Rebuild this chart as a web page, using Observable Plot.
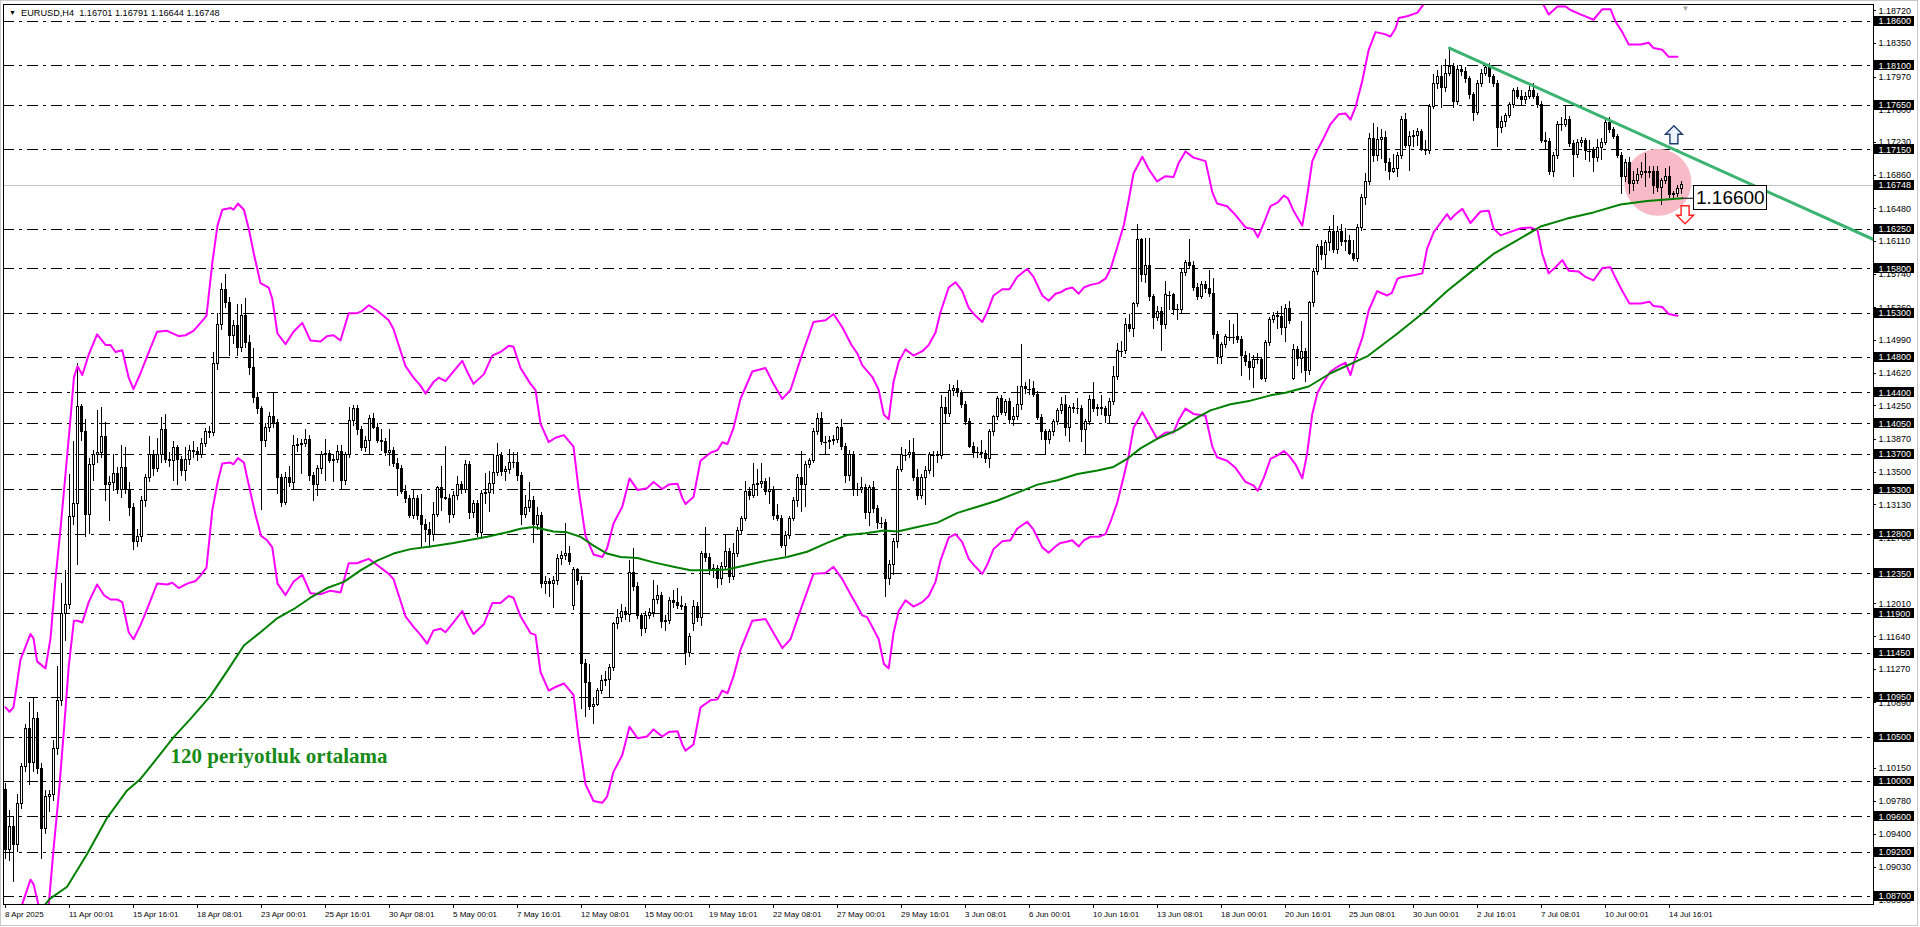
<!DOCTYPE html>
<html><head><meta charset="utf-8">
<script src="https://cdn.jsdelivr.net/npm/d3@7"></script>
<script src="https://cdn.jsdelivr.net/npm/@observablehq/plot@0.6"></script>
<style>
html,body{margin:0;padding:0;background:#fff;overflow:hidden;}
#wrap{position:relative;width:1920px;height:927px;overflow:hidden;}
#border{position:absolute;left:0;top:0;width:1916px;height:924px;border:1px solid #c8c8c8;pointer-events:none;}
</style></head><body><div id="wrap"><div id="chart"></div><div id="border"></div></div>
<script>
// ---- H4 candles (bar index 0 = 8 Apr 2025 08:00) ----
const open = [
1.0990,1.0923,1.0949,1.0928,1.0975,1.1016,1.1060,1.1021,1.1071,1.1014,
1.0946,1.0982,1.0985,1.1037,1.1091,1.1190,1.1200,1.1299,1.1314,1.1424,
1.1395,1.1302,1.1358,1.1369,1.1372,1.1390,1.1335,1.1338,1.1348,1.1330,
1.1355,1.1330,1.1310,1.1271,1.1277,1.1317,1.1343,1.1369,1.1354,1.1370,
1.1398,1.1364,1.1363,1.1377,1.1364,1.1351,1.1364,1.1374,1.1373,1.1370,
1.1382,1.1395,1.1394,1.1473,1.1517,1.1556,1.1541,1.1504,1.1515,1.1491,
1.1527,1.1496,1.1468,1.1434,1.1421,1.1385,1.1400,1.1413,1.1406,1.1343,
1.1315,1.1344,1.1338,1.1380,1.1381,1.1382,1.1387,1.1346,1.1335,1.1354,
1.1369,1.1371,1.1363,1.1364,1.1373,1.1340,1.1369,1.1408,1.1421,1.1398,
1.1377,1.1385,1.1410,1.1400,1.1385,1.1384,1.1372,1.1374,1.1359,1.1354,
1.1328,1.1320,1.1301,1.1320,1.1300,1.1290,1.1285,1.1279,1.1302,1.1332,
1.1321,1.1320,1.1302,1.1323,1.1335,1.1330,1.1358,1.1304,1.1314,1.1281,
1.1325,1.1326,1.1337,1.1349,1.1368,1.1350,1.1352,1.1360,1.1361,1.1346,
1.1302,1.1309,1.1318,1.1290,1.1300,1.1224,1.1226,1.1224,1.1227,1.1252,
1.1255,1.1257,1.1199,1.1239,1.1227,1.1133,1.1112,1.1084,1.1087,1.1102,
1.1114,1.1115,1.1129,1.1178,1.1185,1.1192,1.1189,1.1236,1.1220,1.1187,
1.1173,1.1187,1.1191,1.1206,1.1210,1.1180,1.1182,1.1204,1.1202,1.1199,
1.1198,1.1145,1.1178,1.1198,1.1185,1.1257,1.1253,1.1238,1.1240,1.1229,
1.1243,1.1260,1.1231,1.1257,1.1283,1.1297,1.1328,1.1323,1.1335,1.1337,
1.1339,1.1328,1.1330,1.1300,1.1297,1.1267,1.1278,1.1297,1.1318,1.1344,
1.1335,1.1358,1.1363,1.1396,1.1410,1.1384,1.1384,1.1385,1.1386,1.1400,
1.1379,1.1346,1.1370,1.1330,1.1330,1.1332,1.1304,1.1332,1.1308,1.1292,
1.1292,1.1229,1.1245,1.1271,1.1353,1.1369,1.1369,1.1372,1.1344,1.1323,
1.1344,1.1351,1.1369,1.1369,1.1368,1.1423,1.1416,1.1442,1.1444,1.1440,
1.1426,1.1407,1.1379,1.1372,1.1372,1.1371,1.1365,1.1395,1.1412,1.1433,
1.1417,1.1429,1.1409,1.1412,1.1426,1.1446,1.1444,1.1444,1.1437,1.1411,
1.1395,1.1386,1.1395,1.1407,1.1419,1.1426,1.1400,1.1423,1.1422,1.1421,
1.1398,1.1407,1.1432,1.1421,1.1423,1.1421,1.1414,1.1430,1.1458,1.1487,
1.1487,1.1517,1.1512,1.1540,1.1613,1.1573,1.1583,1.1548,1.1524,1.1531,
1.1517,1.1550,1.1550,1.1534,1.1534,1.1576,1.1587,1.1583,1.1559,1.1548,
1.1562,1.1557,1.1552,1.1505,1.1480,1.1494,1.1503,1.1503,1.1503,1.1500,
1.1482,1.1475,1.1468,1.1477,1.1477,1.1456,1.1496,1.1522,1.1527,1.1526,
1.1513,1.1535,1.1456,1.1488,1.1478,1.1486,1.1464,1.1541,1.1577,1.1605,
1.1596,1.1609,1.1622,1.1601,1.1622,1.1610,1.1612,1.1597,1.1591,1.1626,
1.1660,1.1678,1.1727,1.1708,1.1726,1.1728,1.1700,1.1690,1.1693,1.1708,
1.1749,1.1719,1.1729,1.1731,1.1735,1.1715,1.1713,1.1763,1.1789,1.1797,
1.1785,1.1801,1.1809,1.1769,1.1805,1.1803,1.1795,1.1777,1.1757,1.1789,
1.1801,1.1807,1.1797,1.1789,1.1739,1.1746,1.1753,1.1765,1.1781,1.1775,
1.1771,1.1775,1.1781,1.1775,1.1765,1.1725,1.1724,1.1690,1.1708,1.1743,
1.1743,1.1749,1.1721,1.1709,1.1723,1.1725,1.1713,1.1713,1.1705,1.1717,
1.1723,1.1745,1.1737,1.1729,1.1708,1.1684,1.1700,1.1676,1.1680,1.1686,
1.1690,1.1689,1.1690,1.1690,1.1672,1.1680,1.1684,1.1664,1.1665,1.16701];
const high = [
1.0998,1.0967,1.0960,1.0985,1.1020,1.1065,1.1089,1.1095,1.1078,1.1020,
1.0990,1.0990,1.1047,1.1130,1.1224,1.1239,1.1348,1.1385,1.1473,1.1427,
1.1410,1.1365,1.1375,1.1420,1.1423,1.1406,1.1345,1.1370,1.1355,1.1380,
1.1378,1.1338,1.1315,1.1285,1.1322,1.1348,1.1390,1.1375,1.1388,1.1412,
1.1415,1.1372,1.1385,1.1380,1.1368,1.1378,1.1380,1.1385,1.1378,1.1388,
1.1400,1.1402,1.1485,1.1530,1.1563,1.1574,1.1548,1.1522,1.1540,1.1540,
1.1547,1.1505,1.1490,1.1440,1.1424,1.1405,1.1418,1.1439,1.1410,1.1348,
1.1350,1.1356,1.1392,1.1388,1.1387,1.1398,1.1392,1.1350,1.1358,1.1373,
1.1387,1.1375,1.1370,1.1380,1.1380,1.1372,1.1423,1.1425,1.1426,1.1402,
1.1390,1.1414,1.1416,1.1405,1.1398,1.1388,1.1398,1.1378,1.1366,1.1358,
1.1335,1.1324,1.1330,1.1324,1.1325,1.1296,1.1293,1.1316,1.1334,1.1356,
1.1379,1.1325,1.1328,1.1345,1.1340,1.1363,1.1362,1.1318,1.1318,1.1329,
1.1349,1.1351,1.1369,1.1382,1.1372,1.1356,1.1376,1.1372,1.1372,1.1350,
1.1324,1.1338,1.1322,1.1310,1.1305,1.1232,1.1230,1.1232,1.1257,1.1260,
1.1292,1.1266,1.1242,1.1241,1.1232,1.1138,1.1133,1.1095,1.1105,1.1120,
1.1125,1.1133,1.1180,1.1195,1.1200,1.1197,1.1250,1.1264,1.1225,1.1190,
1.1192,1.1196,1.1227,1.1222,1.1214,1.1188,1.1208,1.1216,1.1218,1.1209,
1.1202,1.1168,1.1205,1.1203,1.1260,1.1288,1.1258,1.1246,1.1244,1.1248,
1.1280,1.1264,1.1269,1.1287,1.1300,1.1340,1.1333,1.1360,1.1353,1.1360,
1.1343,1.1344,1.1334,1.1314,1.1301,1.1283,1.1300,1.1321,1.1347,1.1374,
1.1362,1.1366,1.1399,1.1417,1.1418,1.1390,1.1391,1.1392,1.1402,1.1410,
1.1382,1.1375,1.1374,1.1337,1.1344,1.1336,1.1335,1.1340,1.1312,1.1299,
1.1296,1.1250,1.1275,1.1356,1.1378,1.1376,1.1386,1.1388,1.1353,1.1348,
1.1356,1.1372,1.1374,1.1373,1.1437,1.1434,1.1449,1.1448,1.1454,1.1443,
1.1430,1.1411,1.1384,1.1378,1.1386,1.1375,1.1398,1.1414,1.1436,1.1437,
1.1432,1.1433,1.1423,1.1447,1.1494,1.1452,1.1455,1.1453,1.1441,1.1415,
1.1398,1.1398,1.1410,1.1422,1.1435,1.1437,1.1426,1.1428,1.1433,1.1425,
1.1410,1.1437,1.1451,1.1427,1.1437,1.1424,1.1433,1.1470,1.1496,1.1498,
1.1524,1.1529,1.1542,1.1630,1.1615,1.1614,1.1614,1.1551,1.1538,1.1536,
1.1566,1.1555,1.1552,1.1540,1.1580,1.1590,1.1613,1.1588,1.1563,1.1566,
1.1566,1.1578,1.1569,1.1509,1.1497,1.1506,1.1522,1.1517,1.1529,1.1504,
1.1487,1.1484,1.1482,1.1484,1.1480,1.1499,1.1525,1.1531,1.1532,1.1537,
1.1540,1.1543,1.1495,1.1492,1.1520,1.1490,1.1543,1.1580,1.1608,1.1612,
1.1612,1.1628,1.1640,1.1628,1.1630,1.1626,1.1618,1.1612,1.1630,1.1664,
1.1688,1.1733,1.1745,1.1740,1.1738,1.1735,1.1705,1.1710,1.1712,1.1753,
1.1756,1.1735,1.1737,1.1739,1.1738,1.1725,1.1766,1.1800,1.1805,1.1810,
1.1817,1.1830,1.1812,1.1810,1.1809,1.1808,1.1798,1.1780,1.1793,1.1806,
1.1812,1.1812,1.1800,1.1793,1.1752,1.1756,1.1768,1.1784,1.1785,1.1782,
1.1780,1.1787,1.1790,1.1778,1.1770,1.1734,1.1728,1.1712,1.1747,1.1751,
1.1765,1.1753,1.1725,1.1727,1.1729,1.1728,1.1725,1.1718,1.1726,1.1728,
1.1749,1.1751,1.1740,1.1732,1.1712,1.1704,1.1706,1.1690,1.1694,1.1700,
1.1711,1.1696,1.1696,1.1696,1.1682,1.1694,1.1696,1.1668,1.1675,1.16791];
const low = [
1.0912,1.0910,1.0886,1.0920,1.0968,1.1010,1.0995,1.1010,1.1008,1.0912,
1.0940,1.0965,1.0978,1.1030,1.1085,1.1159,1.1195,1.1290,1.1245,1.1385,
1.1276,1.1280,1.1340,1.1360,1.1365,1.1317,1.1294,1.1328,1.1325,1.1320,
1.1325,1.1300,1.1262,1.1265,1.1270,1.1310,1.1338,1.1345,1.1350,1.1360,
1.1360,1.1355,1.1340,1.1335,1.1345,1.1340,1.1358,1.1365,1.1362,1.1365,
1.1378,1.1388,1.1390,1.1465,1.1510,1.1535,1.1481,1.1495,1.1481,1.1485,
1.1490,1.1460,1.1428,1.1415,1.1307,1.1378,1.1395,1.1400,1.1325,1.1310,
1.1312,1.1333,1.1330,1.1372,1.1348,1.1378,1.1340,1.1317,1.1322,1.1348,
1.1340,1.1360,1.1338,1.1360,1.1330,1.1335,1.1365,1.1402,1.1392,1.1373,
1.1372,1.1370,1.1398,1.1382,1.1374,1.1368,1.1356,1.1355,1.1322,1.1325,
1.1315,1.1298,1.1296,1.1295,1.1264,1.1270,1.1264,1.1272,1.1299,1.1306,
1.1318,1.1292,1.1298,1.1318,1.1325,1.1326,1.1297,1.1298,1.1276,1.1276,
1.1313,1.1304,1.1325,1.1345,1.1345,1.1340,1.1348,1.1354,1.1340,1.1290,
1.1298,1.1305,1.1269,1.1284,1.1219,1.1212,1.1208,1.1196,1.1222,1.1245,
1.1250,1.1244,1.1194,1.1222,1.1081,1.1072,1.1080,1.1065,1.1085,1.1098,
1.1108,1.1095,1.1125,1.1172,1.1180,1.1182,1.1180,1.1215,1.1183,1.1164,
1.1168,1.1183,1.1186,1.1200,1.1173,1.1170,1.1178,1.1196,1.1195,1.1193,
1.1131,1.1140,1.1170,1.1180,1.1175,1.1248,1.1233,1.1230,1.1219,1.1222,
1.1240,1.1224,1.1227,1.1254,1.1280,1.1294,1.1318,1.1320,1.1322,1.1332,
1.1324,1.1313,1.1295,1.1294,1.1264,1.1255,1.1274,1.1294,1.1310,1.1305,
1.1310,1.1354,1.1360,1.1392,1.1380,1.1370,1.1376,1.1380,1.1382,1.1375,
1.1337,1.1340,1.1323,1.1322,1.1326,1.1296,1.1289,1.1303,1.1285,1.1286,
1.1208,1.1222,1.1233,1.1264,1.1350,1.1362,1.1365,1.1340,1.1318,1.1319,
1.1312,1.1347,1.1344,1.1360,1.1364,1.1404,1.1412,1.1436,1.1435,1.1422,
1.1403,1.1377,1.1365,1.1366,1.1366,1.1360,1.1354,1.1391,1.1408,1.1414,
1.1413,1.1404,1.1402,1.1408,1.1420,1.1438,1.1437,1.1434,1.1409,1.1386,
1.1370,1.1381,1.1390,1.1403,1.1415,1.1391,1.1384,1.1416,1.1415,1.1384,
1.1370,1.1403,1.1418,1.1413,1.1414,1.1405,1.1405,1.1426,1.1454,1.1480,
1.1483,1.1508,1.1503,1.1536,1.1565,1.1563,1.1543,1.1512,1.1520,1.1487,
1.1512,1.1533,1.1527,1.1522,1.1530,1.1572,1.1580,1.1555,1.1544,1.1545,
1.1552,1.1548,1.1500,1.1472,1.1472,1.1490,1.1498,1.1495,1.1496,1.1458,
1.1470,1.1454,1.1445,1.1472,1.1454,1.1452,1.1492,1.1518,1.1512,1.1505,
1.1497,1.1517,1.1454,1.1470,1.1462,1.1452,1.1460,1.1536,1.1573,1.1590,
1.1580,1.1600,1.1598,1.1596,1.1605,1.1600,1.1595,1.1589,1.1587,1.1622,
1.1652,1.1674,1.1700,1.1702,1.1704,1.1690,1.1680,1.1688,1.1683,1.1704,
1.1716,1.1690,1.1718,1.1719,1.1713,1.1708,1.1710,1.1760,1.1783,1.1762,
1.1780,1.1798,1.1761,1.1765,1.1798,1.1790,1.1772,1.1747,1.1754,1.1785,
1.1798,1.1790,1.1785,1.1717,1.1733,1.1740,1.1750,1.1762,1.1772,1.1765,
1.1766,1.1772,1.1772,1.1762,1.1722,1.1714,1.1686,1.1684,1.1704,1.1735,
1.1740,1.1718,1.1683,1.1705,1.1718,1.1703,1.1700,1.1689,1.1700,1.1703,
1.1720,1.1733,1.1726,1.1705,1.1664,1.1678,1.1664,1.1668,1.1676,1.1682,
1.1672,1.1682,1.1664,1.1666,1.1652,1.1676,1.1660,1.1660,1.1661,1.16644];
const close = [
1.0923,1.0949,1.0928,1.0975,1.1016,1.1060,1.1021,1.1071,1.1014,1.0946,
1.0982,1.0985,1.1037,1.1091,1.1190,1.1200,1.1299,1.1314,1.1424,1.1395,
1.1302,1.1358,1.1369,1.1372,1.1390,1.1335,1.1338,1.1348,1.1330,1.1355,
1.1330,1.1310,1.1271,1.1277,1.1317,1.1343,1.1369,1.1354,1.1370,1.1398,
1.1364,1.1363,1.1377,1.1364,1.1351,1.1364,1.1374,1.1373,1.1370,1.1382,
1.1395,1.1394,1.1473,1.1517,1.1556,1.1541,1.1504,1.1515,1.1491,1.1527,
1.1496,1.1468,1.1434,1.1421,1.1385,1.1400,1.1413,1.1406,1.1343,1.1315,
1.1344,1.1338,1.1380,1.1381,1.1382,1.1387,1.1346,1.1335,1.1354,1.1369,
1.1371,1.1363,1.1364,1.1373,1.1340,1.1369,1.1408,1.1421,1.1398,1.1377,
1.1385,1.1410,1.1400,1.1385,1.1384,1.1372,1.1374,1.1359,1.1354,1.1328,
1.1320,1.1301,1.1320,1.1300,1.1290,1.1285,1.1279,1.1302,1.1332,1.1321,
1.1320,1.1302,1.1323,1.1335,1.1330,1.1358,1.1304,1.1314,1.1281,1.1325,
1.1326,1.1337,1.1349,1.1368,1.1350,1.1352,1.1360,1.1361,1.1346,1.1302,
1.1309,1.1318,1.1290,1.1300,1.1224,1.1226,1.1224,1.1227,1.1252,1.1255,
1.1257,1.1248,1.1239,1.1227,1.1133,1.1112,1.1084,1.1087,1.1102,1.1114,
1.1115,1.1129,1.1178,1.1185,1.1192,1.1189,1.1236,1.1220,1.1187,1.1173,
1.1187,1.1191,1.1206,1.1210,1.1180,1.1182,1.1204,1.1202,1.1199,1.1198,
1.1145,1.1164,1.1198,1.1185,1.1257,1.1253,1.1238,1.1240,1.1229,1.1243,
1.1260,1.1231,1.1257,1.1283,1.1297,1.1328,1.1323,1.1335,1.1337,1.1339,
1.1328,1.1330,1.1300,1.1297,1.1267,1.1278,1.1297,1.1318,1.1344,1.1335,
1.1358,1.1363,1.1396,1.1410,1.1384,1.1384,1.1385,1.1386,1.1400,1.1379,
1.1346,1.1370,1.1330,1.1330,1.1332,1.1304,1.1332,1.1308,1.1292,1.1292,
1.1229,1.1245,1.1271,1.1353,1.1369,1.1369,1.1372,1.1344,1.1323,1.1344,
1.1351,1.1369,1.1369,1.1368,1.1423,1.1416,1.1442,1.1444,1.1440,1.1426,
1.1407,1.1379,1.1372,1.1372,1.1371,1.1365,1.1395,1.1412,1.1433,1.1417,
1.1429,1.1409,1.1412,1.1426,1.1446,1.1444,1.1444,1.1437,1.1411,1.1395,
1.1386,1.1395,1.1407,1.1419,1.1426,1.1400,1.1423,1.1422,1.1421,1.1398,
1.1407,1.1432,1.1421,1.1423,1.1421,1.1414,1.1430,1.1458,1.1487,1.1487,
1.1517,1.1512,1.1540,1.1613,1.1573,1.1583,1.1548,1.1524,1.1531,1.1517,
1.1550,1.1550,1.1534,1.1534,1.1576,1.1587,1.1583,1.1559,1.1548,1.1562,
1.1557,1.1552,1.1505,1.1480,1.1494,1.1503,1.1503,1.1503,1.1500,1.1482,
1.1475,1.1468,1.1477,1.1477,1.1456,1.1496,1.1522,1.1527,1.1526,1.1513,
1.1535,1.1521,1.1488,1.1478,1.1486,1.1464,1.1541,1.1577,1.1605,1.1596,
1.1609,1.1622,1.1601,1.1622,1.1610,1.1612,1.1597,1.1591,1.1626,1.1660,
1.1678,1.1727,1.1708,1.1726,1.1728,1.1700,1.1690,1.1693,1.1708,1.1749,
1.1719,1.1729,1.1731,1.1735,1.1715,1.1713,1.1763,1.1789,1.1797,1.1785,
1.1801,1.1809,1.1769,1.1805,1.1803,1.1795,1.1777,1.1757,1.1789,1.1801,
1.1807,1.1797,1.1789,1.1739,1.1746,1.1753,1.1765,1.1781,1.1775,1.1771,
1.1775,1.1781,1.1775,1.1765,1.1725,1.1724,1.1690,1.1708,1.1743,1.1743,
1.1749,1.1721,1.1709,1.1723,1.1725,1.1713,1.1713,1.1705,1.1717,1.1723,
1.1745,1.1737,1.1729,1.1708,1.1684,1.1700,1.1676,1.1680,1.1686,1.1690,
1.1689,1.1690,1.1674,1.1672,1.1680,1.1684,1.1664,1.1665,1.1670,1.16748];

// ---- 120-period moving average (bar index, price) ----
const maIdx = [8,11,15.4,20.4,25.4,30.4,33.75,38,42,46.25,51.25,55.4,59.6,63.75,68,72,76.25,80.4,84.6,88.75,92.9,97,101.25,106.25,112,120.4,125.4,128.75,132,137,140.4,143.75,147,150.4,153.75,158,162,167,171.25,175.4,180.4,185.4,190.4,195.4,200.4,205.4,210.4,215,219.6,223,228,233,238,243,248,253,258,263,268,273,277,280.4,283.75,288,293,298,301.25,306.25,311.25,316.25,320,325.8,331.25,340.4,348,354.6,360.4,367,372,377,383.75,390.4,397,403.75,410.4,419.2];
const maVal = [1.0850,1.0867,1.0881,1.0918,1.0959,1.0990,1.1003,1.1027,1.1050,1.1071,1.1097,1.1125,1.1154,1.1169,1.1185,1.1195,1.1208,1.1219,1.1226,1.1239,1.1250,1.1258,1.1263,1.1266,1.1270,1.1277,1.1282,1.1286,1.1288,1.1283,1.1282,1.1277,1.1267,1.1258,1.1254,1.1253,1.1248,1.1243,1.1239,1.1239,1.1240,1.1245,1.1250,1.1254,1.1260,1.1270,1.1279,1.1281,1.1284,1.1283,1.1288,1.1293,1.1304,1.1311,1.1318,1.1327,1.1336,1.1341,1.1348,1.1352,1.1356,1.1365,1.1377,1.1388,1.1398,1.1412,1.1420,1.1427,1.1431,1.1437,1.1440,1.1447,1.1462,1.1481,1.1507,1.1531,1.1555,1.1579,1.1597,1.1610,1.1628,1.1637,1.1644,1.1653,1.1657,1.1660];

// ---- upper envelope (magenta) ----
const upIdx = [0,1,2,3.75,6.25,7,7.9,10,11.25,12.5,13.75,15,16.25,17.1,18,19.2,20.8,22.9,25,26.25,27.5,29.2,30.8,32,33.75,35.4,37.9,40.4,43.3,45,47,48.75,50.25,51.7,53,54.2,56.25,57,58.1,59.6,60.8,62.1,63.75,65.8,66.7,68,70,72,74.2,76.25,78.75,80.4,82,83.75,85.8,87.9,89,90.8,92.9,95.8,97,100,102,103.75,105,107,108.3,110,112,114.2,115.4,117,119.6,121.7,123.75,125.8,127,128.75,131.25,132.5,133.75,135.8,137.5,139.6,142,143.3,145,147,149.2,150.4,152,154.2,156,158,160.4,162,164.2,165.8,168,169.2,170,172,173.75,176.25,178,179.2,180.5,182,183.75,186.7,190,192,194.2,196.25,198.75,202,205,207,209.2,211.5,213,214.2,216.7,218.3,219.6,220.8,222,223.3,225,227,229.2,230.8,232.5,233.75,235.8,237.5,239.2,240.8,242.5,244.2,245.4,247,249.2,251,252.9,255.4,257,259.2,260.8,262.5,264,265,266.7,268.3,269.6,271.25,273.3,275,276.25,277.9,279.6,280.8,282,284.2,285.8,287.9,290,292,293.3,295,297,300,301.7,302.9,305.4,307.5,310,312,313.1,314.6,316.25,318,319.6,320.6,322,324.2,325.4,326.7,328,329.2,331.25,333.3,335,336.25,337.5,339.2,340.8,342.5,344.6,346.25,347.5,348.3,350.4,353,354.6,356.25,360,365,370,375,380,383,384.6,385.8,388,390,391.25,393.75,397,399.2,401.25,402.5,404.2,405.8,408.75,410.8,412,414.2,415.8,418];
const upVal = [1.1084,1.1079,1.1084,1.1138,1.1167,1.1162,1.1136,1.1128,1.1162,1.1229,1.1286,1.1348,1.1411,1.1457,1.1470,1.1460,1.1483,1.1506,1.1494,1.1494,1.1486,1.1488,1.1457,1.1444,1.1462,1.1481,1.1509,1.1510,1.1504,1.1505,1.1510,1.1519,1.1527,1.1587,1.1629,1.1647,1.1649,1.1647,1.1654,1.1647,1.1626,1.1597,1.1564,1.1559,1.1546,1.1507,1.1495,1.1509,1.1519,1.1499,1.1498,1.1504,1.1505,1.1499,1.1530,1.1530,1.1532,1.1539,1.1533,1.1522,1.1512,1.1470,1.1457,1.1448,1.1439,1.1452,1.1457,1.1453,1.1464,1.1476,1.1464,1.1450,1.1461,1.1482,1.1486,1.1493,1.1492,1.1468,1.1450,1.1443,1.1405,1.1384,1.1389,1.1392,1.1379,1.1330,1.1278,1.1257,1.1254,1.1264,1.1292,1.1311,1.1343,1.1330,1.1332,1.1339,1.1331,1.1336,1.1337,1.1321,1.1314,1.1322,1.1363,1.1372,1.1375,1.1384,1.1382,1.1400,1.1433,1.1464,1.1468,1.1450,1.1433,1.1443,1.1478,1.1520,1.1522,1.1529,1.1514,1.1494,1.1484,1.1471,1.1458,1.1443,1.1415,1.1410,1.1452,1.1475,1.1489,1.1482,1.1487,1.1494,1.1508,1.1531,1.1559,1.1565,1.1555,1.1536,1.1527,1.1520,1.1531,1.1550,1.1557,1.1557,1.1571,1.1580,1.1571,1.1550,1.1544,1.1552,1.1554,1.1557,1.1559,1.1552,1.1559,1.1562,1.1564,1.1569,1.1580,1.1604,1.1630,1.1658,1.1688,1.1707,1.1693,1.1679,1.1685,1.1684,1.1700,1.1713,1.1706,1.1702,1.1667,1.1654,1.1651,1.1641,1.1627,1.1625,1.1616,1.1632,1.1651,1.1655,1.1663,1.1660,1.1646,1.1629,1.1662,1.1702,1.1715,1.1725,1.1744,1.1755,1.1756,1.1749,1.1763,1.1793,1.1828,1.1848,1.1846,1.1843,1.1852,1.1864,1.1866,1.1870,1.1880,1.1892,1.1915,1.1930,1.1935,1.1925,1.1905,1.1888,1.1878,1.1868,1.1877,1.1877,1.1873,1.1868,1.1862,1.1874,1.1874,1.1860,1.1848,1.1834,1.1834,1.1836,1.1830,1.1828,1.1820,1.1820];

// ---- lower envelope (magenta) ----
const loIdx = [0,3,4.6,6.25,7,7.9,9,10.8,12,13.3,14.6,15.8,17.1,18,19.2,20.8,22.9,24.6,26.25,27.9,29.2,30.8,32,33.75,35.4,37.9,40.4,41.7,43.3,45.4,47.5,48.75,50.25,51.7,53,54.2,56.25,57,58.1,59.6,60.8,62.5,63.9,65.4,66.7,68,70,72,74.2,76.25,78.75,81.25,83.75,85.8,87.9,89,90.8,92.9,95.8,97,100,102,103.75,105.4,107,108.75,110,112,114.2,115.4,117,119.6,121.7,123.75,125.8,127,128.75,131.25,132.5,133.75,135.8,137.5,139.6,142,143.3,145,147,149.2,150.4,152,154.2,156,158,160.4,162,164.2,165.8,168,169.2,170,172,173.75,176.25,178,179.2,180.5,182,183.75,186.7,190,192,194.2,196.25,198.75,202,205,207,209.2,211.25,213,214.2,215.4,216.7,218.3,219.6,220.8,222,223.3,225,227,229.2,230.8,232.5,233.75,235.8,237.5,239.2,240.8,242.5,244.2,245.4,247,249.2,251.25,252.9,255.4,257,259.2,260.8,262.5,263.75,265,266.7,268.3,269.6,271.25,273.3,275,276.25,277.9,279.6,280.8,282,284.2,285.8,287.9,290,292,293.3,295,297,300,301.7,302.9,305.4,307.5,310,312,313.1,314.6,316.25,318,319.6,321,322.5,324.2,325.4,326.7,328,329.2,331.25,333.3,335,336.25,337.5,339.2,340.8,342.9,345.4,346.6,348,349.2,352,354.2,355.4,357.1,358.75,360.4,361.25,362.5,364.2,366.25,368.75,370.8,372,373.75,376.25,378.75,381.25,383,384.2,385.8,387.5,389.2,390.8,393.3,395,397,399.2,401.25,402.5,404.2,406,408.75,411,412,414.2,415.8,418];
const loVal = [1.0830,1.0845,1.0867,1.0889,1.0884,1.0867,1.0845,1.0860,1.0923,1.0985,1.1058,1.1130,1.1182,1.1182,1.1180,1.1203,1.1223,1.1211,1.1206,1.1206,1.1203,1.1169,1.1161,1.1177,1.1195,1.1224,1.1223,1.1225,1.1219,1.1224,1.1227,1.1233,1.1242,1.1307,1.1338,1.1360,1.1361,1.1359,1.1366,1.1361,1.1336,1.1302,1.1278,1.1273,1.1265,1.1224,1.1211,1.1226,1.1234,1.1213,1.1212,1.1216,1.1214,1.1247,1.1247,1.1249,1.1252,1.1245,1.1235,1.1229,1.1187,1.1175,1.1166,1.1156,1.1171,1.1173,1.1169,1.1180,1.1193,1.1180,1.1167,1.1178,1.1202,1.1202,1.1210,1.1208,1.1187,1.1168,1.1166,1.1124,1.1103,1.1107,1.1111,1.1098,1.1049,1.0997,1.0978,1.0976,1.0983,1.1011,1.1030,1.1062,1.1049,1.1051,1.1059,1.1051,1.1056,1.1057,1.1042,1.1035,1.1042,1.1084,1.1092,1.1093,1.1103,1.1100,1.1119,1.1149,1.1182,1.1184,1.1168,1.1151,1.1161,1.1194,1.1235,1.1236,1.1243,1.1229,1.1212,1.1198,1.1188,1.1186,1.1175,1.1161,1.1133,1.1128,1.1168,1.1193,1.1205,1.1198,1.1203,1.1210,1.1226,1.1250,1.1276,1.1280,1.1271,1.1252,1.1243,1.1235,1.1245,1.1263,1.1272,1.1273,1.1286,1.1294,1.1285,1.1265,1.1259,1.1266,1.1270,1.1271,1.1273,1.1266,1.1273,1.1277,1.1277,1.1280,1.1294,1.1315,1.1346,1.1369,1.1400,1.1418,1.1405,1.1388,1.1395,1.1395,1.1409,1.1422,1.1416,1.1414,1.1379,1.1367,1.1363,1.1355,1.1339,1.1335,1.1329,1.1344,1.1365,1.1369,1.1374,1.1368,1.1359,1.1343,1.1371,1.1416,1.1440,1.1450,1.1464,1.1470,1.1474,1.1460,1.1480,1.1502,1.1533,1.1555,1.1550,1.1553,1.1569,1.1571,1.1573,1.1575,1.1603,1.1622,1.1632,1.1642,1.1636,1.1642,1.1648,1.1632,1.1645,1.1646,1.1626,1.1618,1.1622,1.1626,1.1627,1.1624,1.1597,1.1575,1.1582,1.1590,1.1578,1.1577,1.1571,1.1567,1.1581,1.1582,1.1570,1.1555,1.1541,1.1541,1.1543,1.1538,1.1537,1.1529,1.1527];

// ---- horizontal levels, price scale, time scale ----
const levelPrices = [1.18600,1.18100,1.17650,1.17150,1.16250,1.15800,1.15300,1.14800,1.14400,1.14050,1.13700,1.13300,1.12800,1.12350,1.11900,1.11450,1.10950,1.10500,1.10000,1.09600,1.09200,1.08700];
const bidPrice = 1.16748;
const yTickVals = [1.18720,1.18350,1.17970,1.17600,1.17230,1.16860,1.16480,1.16110,1.15740,1.15360,1.14990,1.14620,1.14250,1.13870,1.13500,1.13130,1.12760,1.12380,1.12010,1.11640,1.11270,1.10890,1.10520,1.10150,1.09780,1.09400,1.09030,1.08660];
const xLabelIdx = [0,16,32,48,64,80,96,112,128,144,160,176,192,208,224,240,256,272,288,304,320,336,352,368,384,400,416];
const xLabels = ["8 Apr 2025","11 Apr 00:01","15 Apr 16:01","18 Apr 08:01","23 Apr 00:01","25 Apr 16:01","30 Apr 08:01","5 May 00:01","7 May 16:01","12 May 08:01","15 May 00:01","19 May 16:01","22 May 08:01","27 May 00:01","29 May 16:01","3 Jun 08:01","6 Jun 00:01","10 Jun 16:01","13 Jun 08:01","18 Jun 00:01","20 Jun 16:01","25 Jun 08:01","30 Jun 00:01","2 Jul 16:01","7 Jul 08:01","10 Jul 00:01","14 Jul 16:01"];

// ---- annotations ----
const titleText = "EURUSD,H4\u00a0 1.16701 1.16791 1.16644 1.16748";
const trendIdx = [361, 468];
const trendVal = [1.1830, 1.16113];
const circleIdx = [413.1], circleVal = [1.1678];
const calloutIdx = [419.2, 422], calloutVal = [1.1660, 1.1660];
const calloutText = "1.16600";
const maLabel = {idx: 41.25, val: 1.10284, text: "120 periyotluk ortalama"};
const upArrow = {idx: 417.1, val: 1.17319}, downArrow = {idx: 419.9, val: 1.16414};

// ---- build ----
const bars = close.map((c, i) => ({i, o: open[i], h: high[i], l: low[i], c}));
const pts = (xs, ys) => xs.map((x, k) => ({x, y: ys[k]}));
const W = 1920, H = 927, mL = 3, mR = 47, mT = 4, mB = 23;
const xMin = -0.5, xMax = 467;
const yMin = 1.08609, yMax = 1.187924;
const pxX = (W - mL - mR) / (xMax - xMin);   // pixels per bar
const pxY = (H - mT - mB) / (yMax - yMin);   // pixels per price unit
const xTicks = xLabelIdx.map((x, k) => ({x, label: xLabels[k]}));

// hollow block arrows as custom dot symbols
const arrowSymbol = (dir) => ({
  draw(ctx, size) {
    const s = Math.sqrt(size / Math.PI) / 9;
    const p = [[0,-9],[8.5,-0.5],[4,-0.5],[4,9],[-4,9],[-4,-0.5],[-8.5,-0.5]];
    p.forEach(([x, y], k) => { const yy = dir * y * s, xx = x * s; k ? ctx.lineTo(xx, yy) : ctx.moveTo(xx, yy); });
    ctx.closePath();
  }
});

const chart = Plot.plot({
  width: W, height: H,
  marginLeft: mL, marginRight: mR, marginTop: mT, marginBottom: mB,
  x: {type: "linear", domain: [xMin, xMax], axis: null},
  y: {type: "linear", domain: [yMin, yMax], axis: null},
  style: {fontFamily: "'Liberation Sans', Arial, sans-serif", fontSize: "9px", background: "#fff", overflow: "visible"},
  marks: [
    Plot.ruleY(levelPrices, {stroke: "#000", strokeWidth: 1, strokeDasharray: "11,5,3,5", shapeRendering: "crispEdges"}),
    Plot.ruleY([bidPrice], {stroke: "#c0c0c0", strokeWidth: 1, shapeRendering: "crispEdges"}),
    Plot.dot(pts(circleIdx, circleVal), {x: "x", y: "y", r: 33.5, fill: "#f8bac6", stroke: null}),
    // candles
    Plot.ruleX(bars, {x: "i", y1: "l", y2: "h", stroke: "#000", strokeWidth: 1, shapeRendering: "crispEdges"}),
    Plot.rect(bars.filter(d => d.c > d.o), {x1: d => d.i - 0.25, x2: d => d.i + 0.25, y1: "o", y2: "c", fill: "#fff", stroke: "#000", strokeWidth: 1, shapeRendering: "crispEdges"}),
    Plot.rect(bars.filter(d => d.c < d.o), {x1: d => d.i - 0.25, x2: d => d.i + 0.25, y1: "o", y2: "c", fill: "#000", stroke: "#000", strokeWidth: 1, shapeRendering: "crispEdges"}),
    Plot.ruleY(bars.filter(d => d.c === d.o), {y: "c", x1: d => d.i - 0.4, x2: d => d.i + 0.4, stroke: "#000", shapeRendering: "crispEdges"}),
    // indicators
    Plot.line(pts(upIdx, upVal), {x: "x", y: "y", stroke: "#ff00ff", strokeWidth: 2, clip: true}),
    Plot.line(pts(loIdx, loVal), {x: "x", y: "y", stroke: "#ff00ff", strokeWidth: 2, clip: true}),
    Plot.line(pts(maIdx, maVal), {x: "x", y: "y", stroke: "#008000", strokeWidth: 2, clip: true}),
    Plot.line(pts(trendIdx, trendVal), {x: "x", y: "y", stroke: "#3cb371", strokeWidth: 3, clip: true}),
    // callout
    Plot.line(pts(calloutIdx, calloutVal), {x: "x", y: "y", stroke: "#000", strokeWidth: 1}),
    Plot.rect([calloutVal[1]], {x1: calloutIdx[1], x2: calloutIdx[1] + 73 / pxX, y1: d => d - 12 / pxY, y2: d => d + 12 / pxY, fill: "#fff", stroke: "#000", strokeWidth: 1, shapeRendering: "crispEdges"}),
    Plot.text([calloutText], {x: calloutIdx[1], y: calloutVal[1], text: d => d, textAnchor: "start", dx: 2.5, lineAnchor: "middle", fontSize: 19, fill: "#000"}),
    Plot.dot([upArrow], {x: "idx", y: "val", symbol: arrowSymbol(1), r: 9, fill: "#eef4ff", stroke: "#1f3c70", strokeWidth: 1.4}),
    Plot.dot([downArrow], {x: "idx", y: "val", symbol: arrowSymbol(-1), r: 9, fill: "#fff", stroke: "#ff2020", strokeWidth: 1.4}),
    Plot.text([maLabel], {x: "idx", y: "val", text: "text", textAnchor: "start", lineAnchor: "middle", fontFamily: "'Liberation Serif', 'DejaVu Serif', serif", fontWeight: "bold", fontSize: 21, fill: "#178a17"}),
    Plot.frame({stroke: "#000", strokeWidth: 1, shapeRendering: "crispEdges"}),
    // title
    Plot.text(["\u25bc"], {frameAnchor: "top-left", dx: 9, dy: 8.7, lineAnchor: "middle", textAnchor: "middle", fontSize: 7, fill: "#000"}),
    Plot.text([titleText], {frameAnchor: "top-left", dx: 17.5, dy: 8.7, lineAnchor: "middle", textAnchor: "start", fontSize: 9.2, fill: "#000"}),
    Plot.text(["\u25bc"], {x: 420, frameAnchor: "top", dy: 3.5, lineAnchor: "middle", fontSize: 8, fill: "#a9a9a9"}),
    // price scale
    Plot.ruleY(yTickVals, {x1: xMax, x2: xMax + 3 / pxX, stroke: "#000", shapeRendering: "crispEdges"}),
    Plot.text(yTickVals, {y: d => d, text: d => d.toFixed(5), frameAnchor: "right", dx: 5, textAnchor: "start", lineAnchor: "middle", fontSize: 9, fill: "#000"}),
    Plot.rect([...levelPrices, bidPrice], {x1: xMax + 1 / pxX, x2: xMax + 41 / pxX, y1: d => d - 5 / pxY, y2: d => d + 5 / pxY, fill: "#000", shapeRendering: "crispEdges"}),
    Plot.text([...levelPrices, bidPrice], {y: d => d, text: d => d.toFixed(5), frameAnchor: "right", dx: 5, textAnchor: "start", lineAnchor: "middle", fontSize: 9, fill: "#fff"}),
    // time scale
    Plot.ruleX(xTicks, {x: "x", y1: yMin, y2: yMin - 4 / pxY, stroke: "#000", shapeRendering: "crispEdges"}),
    Plot.text(xTicks, {x: "x", text: "label", frameAnchor: "bottom", dy: 10, dx: -0.5, textAnchor: "start", lineAnchor: "middle", fontSize: 8, fill: "#000"})
  ]
});
document.getElementById("chart").appendChild(chart);
</script>
</body></html>
